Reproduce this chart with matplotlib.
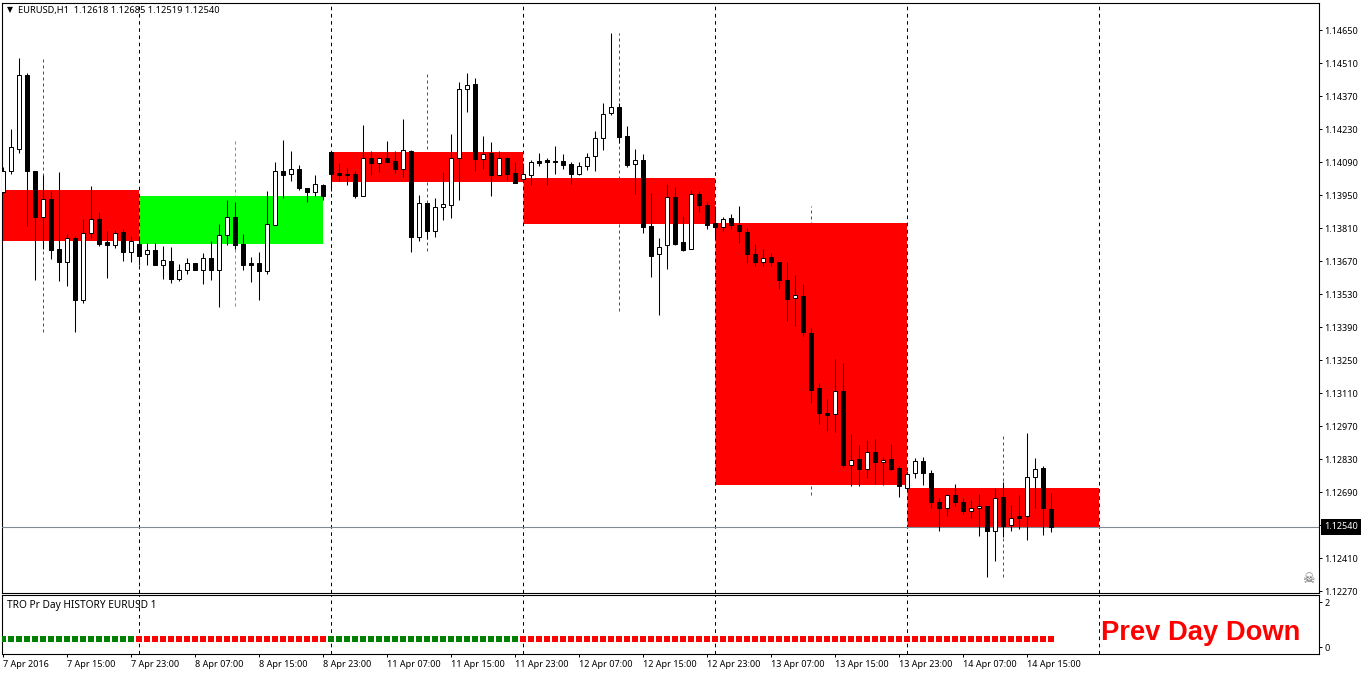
import matplotlib
matplotlib.use("Agg")
import matplotlib.pyplot as plt
from matplotlib.patches import Rectangle
from matplotlib.transforms import ScaledTranslation
import numpy as np

# Prices in points (1e-5)
opens = [113960,114049,114146,114457,114052,113854,113931,113719,113663,113767,
113504,113786,113847,113750,113739,113793,113709,113742,113697,113715,
113654,113668,113595,113629,113660,113633,113681,113630,113779,113855,
113742,113660,113660,113625,113824,114050,114037,114059,113979,113964,
113991,114132,114042,114039,114039,113944,114105,114087,114105,114092,
114061,114135,113770,113914,113798,113897,113906,114105,114398,114419,
114101,114126,114036,114107,114042,114019,114036,114092,114097,114092,
114094,114080,114040,114074,114114,114190,114295,114322,114199,114080,
114097,113817,113698,113736,113940,113749,113719,113952,113906,113829,
113815,113851,113822,113792,113699,113665,113686,113665,113588,113512,
113520,113362,113130,113024,113020,113116,112803,112829,112789,112859,
112815,112829,112791,112706,112768,112820,112770,112649,112621,112676,
112649,112608,112620,112632,112523,112668,112549,112587,112587,112752,
112791,112618]
highs = [114070,114228,114530,114466,114052,114035,113965,114046,113784,113776,
113847,113988,113878,113796,113801,113804,113776,113776,113745,113745,
113733,113729,113656,113683,113660,113702,113753,113827,113929,113920,
113784,113687,113708,113967,114088,114182,114136,114077,113979,114035,
113996,114132,114084,114063,114050,114245,114136,114109,114179,114136,
114271,114139,113950,113914,113937,114046,114207,114429,114466,114445,
114199,114173,114136,114109,114088,114084,114097,114126,114105,114156,
114122,114088,114088,114126,114220,114338,114635,114338,114241,114143,
114122,113957,113766,113995,113982,113859,113969,113965,113919,113902,
113858,113868,113904,113809,113742,113720,113703,113666,113665,113609,
113571,113385,113151,113083,113253,113236,112935,112888,112909,112914,
112837,112893,112799,112777,112833,112836,112782,112666,112680,112723,
112663,112655,112680,112632,112706,112730,112634,112676,112939,112833,
112799,112685]
lows = [113957,114040,114128,113818,113589,113719,113678,113585,113564,113366,
113493,113767,113731,113598,113725,113670,113666,113653,113653,113653,
113593,113577,113585,113615,113633,113572,113589,113475,113738,113722,
113632,113581,113504,113612,113820,113937,114009,113971,113920,113943,
113930,113968,114009,113993,113938,113943,114034,114047,114091,114044,
114026,113709,113756,113764,113773,113844,113852,113928,114302,114051,
114060,113943,114036,114013,114002,114019,113992,114074,113992,114039,
114061,113998,114032,114057,114051,114142,114289,114169,114070,113955,
113786,113603,113442,113637,113739,113713,113719,113875,113805,113773,
113798,113803,113744,113659,113650,113650,113646,113549,113413,113392,
113349,113065,112976,112946,112942,112794,112713,112713,112747,112724,
112720,112781,112670,112704,112747,112717,112620,112526,112586,112628,
112597,112581,112501,112327,112395,112499,112522,112533,112484,112620,
112505,112519]
closes = [114052,114152,114457,114049,113858,113931,113717,113667,113766,113504,
113787,113847,113743,113739,113787,113709,113753,113692,113715,113653,
113673,113595,113630,113660,113633,113681,113633,113779,113855,113739,
113653,113654,113625,113825,114050,114036,114059,113977,113964,113995,
113943,114040,114036,114036,113943,114105,114085,114105,114091,114061,
114139,113769,113914,113798,113897,113910,114105,114398,114415,114100,
114125,114036,114105,114040,114002,114037,114088,114087,114091,114090,
114077,114040,114071,114109,114190,114292,114322,114197,114078,114097,
113815,113692,113730,113940,113743,113718,113952,113906,113824,113815,
113846,113820,113795,113697,113663,113684,113663,113587,113510,113523,
113366,113124,113023,113018,113116,112802,112827,112786,112861,112815,
112827,112789,112713,112764,112819,112768,112649,112620,112675,112649,
112607,112620,112632,112522,112666,112547,112581,112581,112751,112789,
112620,112540]

# Previous-day boxes
box_start = [-8, 17, 41, 65, 89, 113]
box_end = [17, 40, 65, 89, 113, 137]
box_high = [113971, 113946, 114132, 114022, 113831, 112707]
box_low = [113756, 113742, 114005, 113827, 112717, 112540]
box_color = ["#ff0000", "#00ff00", "#ff0000", "#ff0000", "#ff0000", "#ff0000"]

# Day separators and the cyan part shown on the down boxes
day_bars = [17, 41, 65, 89, 113, 137]
cyan_bars = [65, 89, 113]
cyan_high = [114022, 113831, 112707]
cyan_low = [113827, 112717, 112540]

# Mid-day range lines
mid_bars = [5, 29, 53, 77, 101, 125]
mid_high = [114532, 114183, 114466, 114635, 113904, 112939]
mid_low = [113369, 113479, 113712, 113458, 112678, 112330]
mid_color = ["#d81818", "#20d820", "#d81818", "#d81818", "#d81818", "#d81818"]

price_ticks = [1.14650, 1.14510, 1.14370, 1.14230, 1.14090, 1.13950, 1.13810, 1.13670, 1.13530,
               1.13390, 1.13250, 1.13110, 1.12970, 1.12830, 1.12690, 1.12550, 1.12410, 1.12270]
hidden_price_tick = 1.12550  # covered by the last-price box in the reference
time_tick_bars = list(range(0, 129, 8))
time_labels = ["7 Apr 2016", "7 Apr 15:00", "7 Apr 23:00", "8 Apr 07:00", "8 Apr 15:00", "8 Apr 23:00",
               "11 Apr 07:00", "11 Apr 15:00", "11 Apr 23:00", "12 Apr 07:00", "12 Apr 15:00",
               "12 Apr 23:00", "13 Apr 07:00", "13 Apr 15:00", "13 Apr 23:00", "14 Apr 07:00", "14 Apr 15:00"]
last_price = 1.12540

signal_level = 0.38
signal_runs = [17, 24, 24, 67]
signal_colors = ["#008000", "#ff0000", "#008000", "#ff0000"]

W, H = 1362, 675
plt.rcParams["font.family"] = ["Noto Sans", "DejaVu Sans"]
fig = plt.figure(figsize=(W / 100, H / 100), dpi=100, facecolor="white")
PX = 0.72
L, R = 2.2, 1318.8
X0 = 2.9


def make_axes(top, bottom):
    return fig.add_axes([L / W, 1 - bottom / H, (R - L) / W, (bottom - top) / H])


ax = make_axes(2.5, 593.1)
sub = make_axes(595.1, 654.3)
for a in (ax, sub):
    a.set_facecolor("white")
    for s in a.spines.values():
        s.set_linewidth(PX * 1.1)
        s.set_color("black")
    a.set_xlim((L - X0) / 8, (R - X0) / 8)

to_price = lambda v: np.asarray(v, dtype=float) / 1e5
ax.set_ylim(1.1465 - (593.1 - 29.8) * 0.00004242, 1.1465 + (29.8 - 2.5) * 0.00004242)
sub.set_ylim((647.3 - 654.3) / 22.5, (647.3 - 595.1) / 22.5)

# mid-day dashed lines (behind boxes)
for b, h, l, c in zip(mid_bars, to_price(mid_high), to_price(mid_low), mid_color):
    ax.plot([b, b], [l, h], color=c, lw=PX, ls=(0, (3, 3)), zorder=1, solid_capstyle="butt")

# boxes
for s, e, h, l, c in zip(box_start, box_end, to_price(box_high), to_price(box_low), box_color):
    ax.add_patch(Rectangle((s, l), e - s, h - l, facecolor=c, edgecolor="none", zorder=2))

# cyan box edges, day separators
for b, h, l in zip(cyan_bars, to_price(cyan_high), to_price(cyan_low)):
    ax.plot([b, b], [l, h], color="#00e8e8", lw=PX, zorder=2.5)
for a in (ax, sub):
    for b in day_bars:
        a.axvline(b, color="black", lw=PX, ls=(0, (3.6, 3.6)), zorder=3)

# last price line
ax.axhline(last_price, color="#808a92", lw=PX * 1.1, zorder=3)

# candles
x = np.arange(len(opens))
o, h, l, c = map(to_price, (opens, highs, lows, closes))
ax.vlines(x, l, h, color="black", lw=PX * 1.05, zorder=4)
up = c >= o
top = np.maximum(o, c)
bot = np.minimum(o, c)
ax.bar(x, np.maximum(top - bot, 0.00002), bottom=bot, width=0.5,
       color=["white" if u else "black" for u in up], edgecolor="black", lw=PX, zorder=5)

# axes ticks
shift_up = ScaledTranslation(0, -0.5 / 100, fig.dpi_scale_trans)
ax.set_xticks([])
ax.yaxis.tick_right()
ax.set_yticks(price_ticks)
ax.set_yticklabels(["" if p == hidden_price_tick else f"{p:.5f}" for p in price_ticks])
ax.tick_params(axis="y", length=2.4, width=PX, pad=1.8, labelsize=6.5, colors="black")
for t in ax.get_yticklabels():
    t.set_transform(t.get_transform() + shift_up)

sub.yaxis.tick_right()
sub.set_yticks([0, 2])
sub.tick_params(axis="y", length=2.4, width=PX, pad=1.8, labelsize=6.5)
sub.set_xticks(time_tick_bars)
sub.set_xticklabels(time_labels, ha="left", fontsize=6.5)
sub.tick_params(axis="x", length=2.4, width=PX, pad=2.0)

# signal squares
start = 0
for n, col in zip(signal_runs, signal_colors):
    xs = np.arange(start, start + n)
    sub.scatter(xs, np.full(n, signal_level), marker="s", s=(6 * PX) ** 2, color=col,
                linewidths=0, zorder=4)
    start += n

# last price box
ax.annotate(f"{last_price:.5f}", xy=(1.0, last_price), xycoords=("axes fraction", "data"),
            xytext=(4.0, 0.2), textcoords="offset points", ha="left", va="center",
            color="white", fontsize=6.5, annotation_clip=False, zorder=20,
            bbox=dict(boxstyle="square,pad=0.36", fc="black", ec="black", lw=0))

# header & labels
fig.text(9.5 / W, 1 - 10.5 / H, "\u25bc", fontsize=5.6, color="black", ha="center", va="center")
fig.text(18 / W, 1 - 10.8 / H, "EURUSD,H1  1.12618 1.12685 1.12519 1.12540", fontsize=6.7,
         color="black", ha="left", va="center")
fig.text(7 / W, 1 - 605.2 / H, "TRO Pr Day HISTORY EURUSD 1", fontsize=7.3, color="black",
         ha="left", va="center")
fig.text(1101 / W, 1 - 633.5 / H, "Prev Day Down", fontsize=19.7, fontweight="bold",
         family="Liberation Sans", color="#ff0000", ha="left", va="center")
fig.text(1308 / W, 1 - 579 / H, "\u2620", fontsize=10, color="#606060", ha="center", va="center",
         family="DejaVu Sans")

fig.savefig("out.png", dpi=100, facecolor="white")
